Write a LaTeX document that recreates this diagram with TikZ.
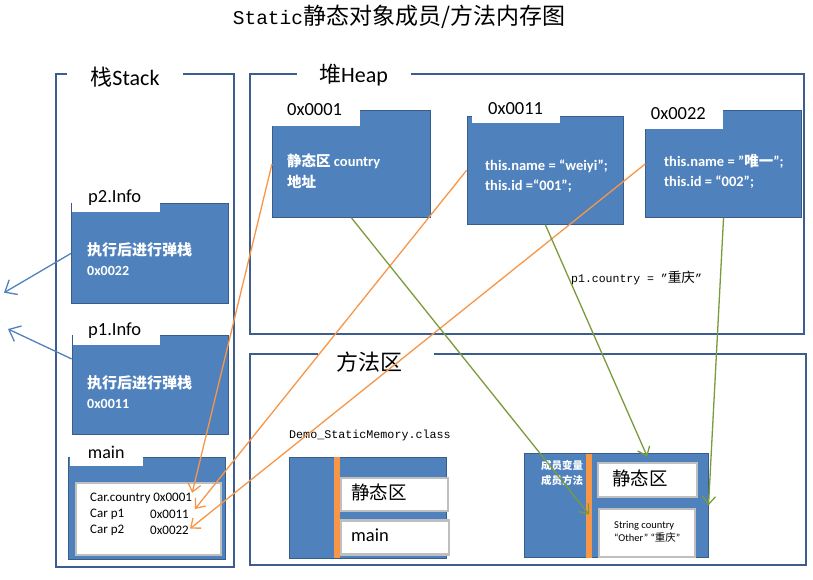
\documentclass[tikz,border=0pt]{standalone}
\usepackage{fontspec}
\setmainfont{Carlito}
\setmonofont{Liberation Mono}
\newfontfamily\cjk{Noto Sans CJK SC}
\usepackage{xcolor}
\usepackage{tikz}
\usetikzlibrary{arrows.meta,positioning,calc}
\definecolor{memblue}{HTML}{4F81BD}
\definecolor{memedge}{HTML}{385D8A}
\definecolor{memframe}{HTML}{3D5D8E}
\definecolor{memorange}{HTML}{F79646}
\definecolor{memgreen}{HTML}{7A9A3C}
\definecolor{memgray}{HTML}{BFBFBF}

\begin{document}
\begin{tikzpicture}[x=1pt,y=-1pt,
  region/.style={draw=memframe,line width=2pt},
  regtitle/.style={inner sep=0pt,font=\fontsize{22}{24}\selectfont},
  blk/.style={draw=memedge,fill=memblue,line width=0.8pt,anchor=north west,inner sep=0pt},
  whitetab/.style={fill=white,anchor=north west,inner sep=0pt},
  tablbl/.style={anchor=west,inner sep=0pt,font=\fontsize{18.5}{20}\selectfont},
  blktxt/.style={anchor=west,inner sep=0pt,align=left,text=white,font=\bfseries\fontsize{14.5}{20.5}\selectfont},
  slotbox/.style={draw=memgray,fill=white,line width=2.2pt,anchor=north west,inner sep=0pt},
  accent/.style={fill=memorange,anchor=north west,inner sep=0pt},
  rowtxt/.style={anchor=west,inner sep=0pt,font=\fontsize{13}{14}\selectfont},
  refarrow/.style={memorange,line width=1.3pt,-{Straight Barb[length=8pt,width=13pt]}},
  objarrow/.style={memgreen,line width=1.3pt,-{Straight Barb[length=8pt,width=13pt]}},
  poparrow/.style={memblue,line width=1.3pt,-{Straight Barb[length=10pt,width=17pt]}}]
\useasboundingbox (0,0) rectangle (813,580);
\node (title) at (399,17) {\ttfamily\fontsize{19.5}{22}\selectfont Static\cjk\fontsize{23}{24}\selectfont 静态对象成员/方法内存图};

\draw[region] (67,74) -| (56,567) -| (234,74) -- (183,74);
\node[regtitle] (stackT) at (125,77) {{\cjk 栈}Stack};
\draw[region] (297,74) -| (250,334) -| (804,74) -- (411,74);
\node[regtitle] (heapT) at (353.5,75) {{\cjk 堆}Heap};
\draw[region] (318,354) -| (250,565) -| (806,354) -- (434,354);
\node[regtitle,font=\cjk\fontsize{22}{24}\selectfont] (methodT) at (369,362) {方法区};

\node[blk,minimum width=158,minimum height=107] (heapA) at (272,110) {};
\node[whitetab,minimum width=89,minimum height=17] (tabA) at (271,109) {};
\node[tablbl] (lblA) at (287,110) {0x0001};
\node[blktxt] (txtA) at (287,171.5) {{\cjk 静态区} country\\{\cjk 地址}};
\node[blk,minimum width=156.6,minimum height=108.3] (heapB) at (466.7,115.7) {};
\node[whitetab,minimum width=88,minimum height=8.2] (tabB) at (472,114.5) {};
\node[tablbl] (lblB) at (488,109) {0x0011};
\node[blktxt] (txtB) at (485,176.3) {this.name = “weiyi”;\\this.id =“001”;};
\node[blk,minimum width=155.7,minimum height=107] (heapC) at (645.3,110) {};
\node[whitetab,minimum width=78.4,minimum height=20] (tabC) at (644.3,109) {};
\node[tablbl] (lblC) at (650.7,114) {0x0022};
\node[blktxt,font=\bfseries\fontsize{14.5}{20}\selectfont] (txtC) at (664,171) {this.name = ”{\cjk 唯一}”;\\this.id = “002”;};
\node[anchor=west,inner sep=0pt] (p1country) at (571,277.7) {\ttfamily\fontsize{11.5}{13}\selectfont p1.country = ”{\cjk\fontsize{13.6}{14}\selectfont 重庆}”};

\node[blk,minimum width=157,minimum height=100] (stkB) at (71,203) {};
\node[whitetab,minimum width=88,minimum height=10] (tabP2) at (72,202) {};
\node[tablbl] (lblP2) at (88,198) {p2.Info};
\node[blktxt,font=\bfseries\fontsize{14}{19.7}\selectfont] (txtP2) at (87,259) {{\cjk\fontsize{15}{15}\selectfont 执行后进行弹栈}\\0x0022};
\node[blk,minimum width=156.3,minimum height=99] (stkA) at (71.7,335) {};
\node[whitetab,minimum width=87,minimum height=11] (tabP1) at (73,334) {};
\node[tablbl] (lblP1) at (88,331) {p1.Info};
\node[blktxt,font=\bfseries\fontsize{14}{20}\selectfont] (txtP1) at (87,391.7) {{\cjk\fontsize{15}{15}\selectfont 执行后进行弹栈}\\0x0011};
\node[blk,minimum width=156.7,minimum height=102] (stkMain) at (68.3,457.3) {};
\node[whitetab,minimum width=73.2,minimum height=10] (tabMain) at (69.5,456) {};
\node[tablbl,font=\fontsize{18}{20}\selectfont] (lblMain) at (87.7,452.7) {main};
\node[slotbox,minimum width=145,minimum height=72.3] (vars) at (75,481.7) {};
\node[rowtxt] (rowA) at (90,498.3) {Car.country 0x0001};
\node[rowtxt,below=15.7pt of rowA.west,anchor=west] (rowB) {Car p1};
\node[rowtxt] (addrB) at (150,514) {0x0011};
\node[rowtxt,below=16.7pt of rowB.west,anchor=west] (rowC) {Car p2};
\node[rowtxt] (addrC) at (150,530.7) {0x0022};

\node[anchor=west,inner sep=0pt,font=\ttfamily\fontsize{11.7}{13}\selectfont] (clsName) at (289,435.7) {Demo\_StaticMemory.class};
\node[blk,minimum width=156.7,minimum height=101.3] (clsA) at (289.3,456.7) {};
\node[accent,minimum width=6,minimum height=101.3] (barA) at (334,456.7) {};
\node[slotbox,minimum width=106.7,minimum height=33.3] (statA) at (340,476.7) {};
\node[tablbl,font=\cjk\fontsize{18.5}{20}\selectfont] (statAtxt) at (351,492) {静态区};
\node[slotbox,minimum width=107.7,minimum height=34] (mainA) at (340,519.3) {};
\node[tablbl] (mainAtxt) at (351,535) {main};

\node[blk,minimum width=183.4,minimum height=104.6] (clsB) at (524.3,452.7) {};
\node[accent,minimum width=5.7,minimum height=104] (barB) at (586,454) {};
\node[blktxt,font=\cjk\bfseries\fontsize{10.5}{15}\selectfont] (membB) at (541,472.5) {成员变量\\成员方法};
\node[slotbox,minimum width=99,minimum height=34.3] (statB) at (596.7,461.7) {};
\node[tablbl,font=\cjk\fontsize{18.5}{20}\selectfont] (statBtxt) at (612,478) {静态区};
\node[slotbox,minimum width=96,minimum height=47.7] (strB) at (598,508) {};
\node[anchor=west,inner sep=0pt,align=left,font=\fontsize{10.5}{13.3}\selectfont] (strBtxt) at (614,531.7) {String country\\“Other” “{\cjk 重庆}”};

\coordinate (outP2) at (4,292.7);
\coordinate (outP1) at (8,329);
\draw[poparrow] (stkB.west) -- (outP2);
\draw[poparrow] ($(stkA.north west)!0.24!(stkA.south west)$) -- (outP1);

\draw[refarrow] (heapA.west) -- (rowA.north east);
\draw[refarrow] (heapB.west) -- ([shift={(6,-5)}]addrB.east);
\draw[refarrow] (heapC.west) -- ([shift={(1,-2)}]addrC.east);

\draw[objarrow] (heapA.south) -- ($(barB.north)!0.58!(barB.south)$);
\draw[objarrow] (heapB.south) -- ([shift={(0,-5)}]statB.north);
\draw[objarrow] (heapC.south) -- (clsB.east);
\end{tikzpicture}
\end{document}
